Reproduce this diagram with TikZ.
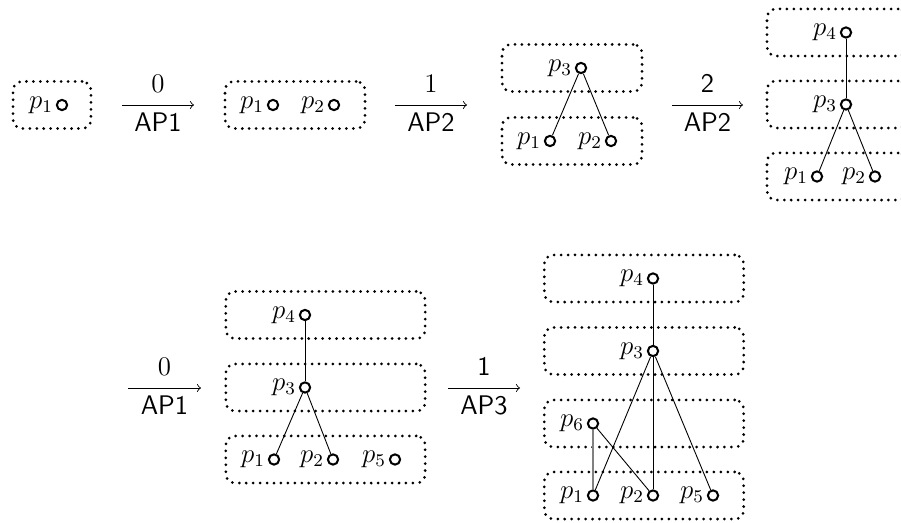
\documentclass[12pt,tikz,border=0pt]{standalone}
\usepackage{amsmath}
\usepackage{tikz}

\begin{document}
\begin{tikzpicture}[x=0.4464pt, y=-0.4464pt,
    grp/.style={rectangle, draw, line width=1.35pt, dash pattern=on 0pt off 3.1pt, line cap=round, rounded corners=4pt, minimum height=21pt},
    proc/.style={circle, draw, line width=0.9pt, inner sep=0pt, minimum size=4.6pt},
    every label/.style={inner sep=1.1pt},
    num/.style={above=1.2pt},
    ap/.style={below=-0.5pt, font=\sffamily}]
    \useasboundingbox (0,0) rectangle (901,523);

    % first row
    \node (s1box) [grp, minimum width=34.8pt] at (52,105) {};
    \node (s1p1) [proc, label=left:$p_1$] at (62,105) {};

    \coordinate (a1s) at (122,105);
    \coordinate (a1e) at (194,105);
    \draw [->] (a1s) -- node[num] {0} node[ap] {AP1} (a1e);

    \node (s2box) [grp, minimum width=62.5pt] at (295,105) {};
    \node (s2p1) [proc, label=left:$p_1$] at (273,105) {};
    \node (s2p2) [proc, label=left:$p_2$] at (334,105) {};

    \coordinate (a2s) at (395,105);
    \coordinate (a2e) at (467,105);
    \draw [->] (a2s) -- node[num] {1} node[ap] {AP2} (a2e);

    \node (s3l1) [grp, minimum width=62.5pt] at (572,68) {};
    \node (s3l0) [grp, minimum width=62.5pt] at (572,141) {};
    \node (s3p3) [proc, label=left:$p_3$] at (581,68) {};
    \node (s3p1) [proc, label=left:$p_1$] at (550,141) {};
    \node (s3p2) [proc, label=left:$p_2$] at (611,141) {};
    \draw (s3p3) -- (s3p1);
    \draw (s3p3) -- (s3p2);

    \coordinate (a3s) at (672,105);
    \coordinate (a3e) at (743,105);
    \draw [->] (a3s) -- node[num] {\sffamily 2} node[ap] {AP2} (a3e);

    \node (s4l2) [grp, minimum width=62.5pt] at (837,32.5) {};
    \node (s4l1) [grp, minimum width=62.5pt] at (837,104.5) {};
    \node (s4l0) [grp, minimum width=62.5pt] at (837,176.5) {};
    \node (s4p4) [proc, label=left:$p_4$] at (846,32.5) {};
    \node (s4p3) [proc, label=left:$p_3$] at (846,104.5) {};
    \node (s4p1) [proc, label=left:$p_1$] at (817,176.5) {};
    \node (s4p2) [proc, label=left:$p_2$] at (875,176.5) {};
    \draw (s4p4) -- (s4p3);
    \draw (s4p3) -- (s4p1);
    \draw (s4p3) -- (s4p2);

    % second row
    \coordinate (a4s) at (128,388);
    \coordinate (a4e) at (201,388);
    \draw [->] (a4s) -- node[num] {0} node[ap] {AP1} (a4e);

    \node (s5l2) [grp, minimum width=89pt] at (325.5,315) {};
    \node (s5l1) [grp, minimum width=89pt] at (325.5,387.5) {};
    \node (s5l0) [grp, minimum width=89pt] at (325.5,459.5) {};
    \node (s5p4) [proc, label=left:$p_4$] at (305,315) {};
    \node (s5p3) [proc, label=left:$p_3$] at (305,387.5) {};
    \node (s5p1) [proc, label=left:$p_1$] at (274,459.5) {};
    \node (s5p2) [proc, label=left:$p_2$] at (333,459.5) {};
    \node (s5p5) [proc, label=left:$p_5$] at (395,459.5) {};
    \draw (s5p4) -- (s5p3);
    \draw (s5p3) -- (s5p1);
    \draw (s5p3) -- (s5p2);

    \coordinate (a5s) at (448,388);
    \coordinate (a5e) at (520,388);
    \draw [->] (a5s) -- node[num] {\sffamily 1} node[ap] {AP3} (a5e);

    \node (s6l3) [grp, minimum width=89pt] at (644,278.5) {};
    \node (s6l2) [grp, minimum width=89pt] at (644,351) {};
    \node (s6l1) [grp, minimum width=89pt] at (644,423.5) {};
    \node (s6l0) [grp, minimum width=89pt] at (644,495.5) {};
    \node (s6p4) [proc, label=left:$p_4$] at (653,278.5) {};
    \node (s6p3) [proc, label=left:$p_3$] at (653,351) {};
    \node (s6p6) [proc, label=left:$p_6$] at (593,423.5) {};
    \node (s6p1) [proc, label=left:$p_1$] at (593,495.5) {};
    \node (s6p2) [proc, label=left:$p_2$] at (653,495.5) {};
    \node (s6p5) [proc, label=left:$p_5$] at (713,495.5) {};
    \draw (s6p4) -- (s6p3);
    \draw (s6p3) -- (s6p1);
    \draw (s6p3) -- (s6p2);
    \draw (s6p3) -- (s6p5);
    \draw [gray, thick] (s6p6) -- (s6p1);
    \draw (s6p6) -- (s6p2);
\end{tikzpicture}
\end{document}
